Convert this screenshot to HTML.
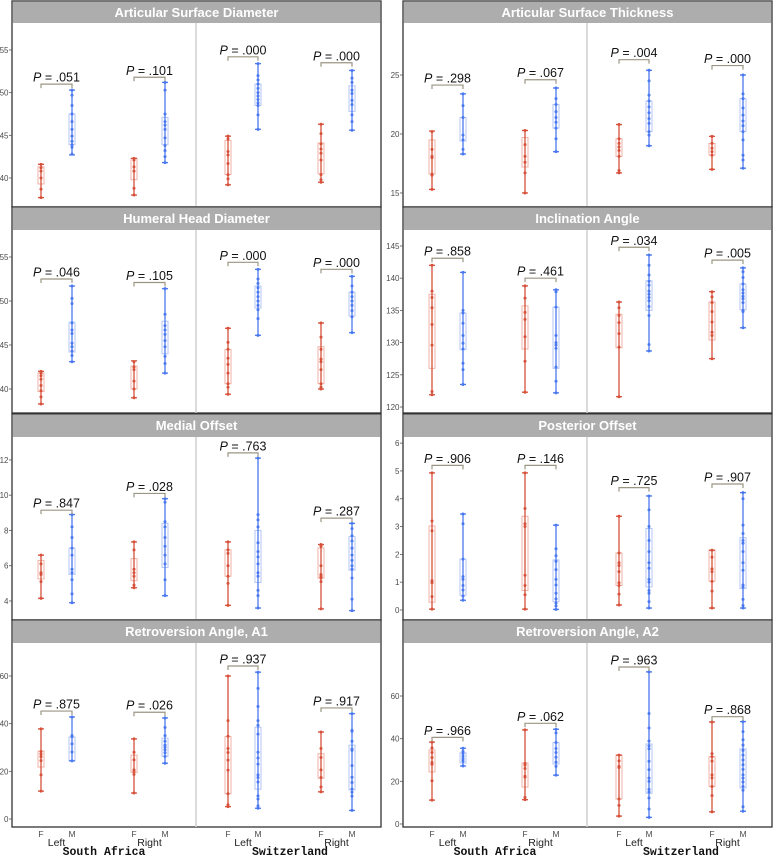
<!DOCTYPE html>
<html><head><meta charset="utf-8"><style>
html,body{margin:0;padding:0;background:#fff;}
svg{display:block;font-family:"Liberation Sans",sans-serif;}
</style></head>
<body>
<svg id="chart" width="774" height="856" viewBox="0 0 774 856" xmlns="http://www.w3.org/2000/svg"></svg>
<script>
const titles=["Articular Surface Diameter","Articular Surface Thickness","Humeral Head Diameter","Inclination Angle","Medial Offset","Posterior Offset","Retroversion Angle, A1","Retroversion Angle, A2"];
const yDomains=[[36.60,58.16],[13.81,29.41],[37.27,58.07],[119.07,147.48],[2.92,13.30],[-0.36,6.22],[-3.36,73.85],[-1.41,84.85]];
const yTicks=[[40,45,50,55],[15,20,25],[40,45,50,55],[120,125,130,135,140,145],[4,6,8,10,12],[0,1,2,3,4,5,6],[0,20,40,60],[0,20,40,60]];
const groups=["SA-Left-F","SA-Left-M","SA-Right-F","SA-Right-M","CH-Left-F","CH-Left-M","CH-Right-F","CH-Right-M"];
const pValues=[[".051",".101",".000",".000"],[".298",".067",".004",".000"],[".046",".105",".000",".000"],[".858",".461",".034",".005"],[".847",".028",".763",".287"],[".906",".146",".725",".907"],[".875",".026",".937",".917"],[".966",".062",".963",".868"]];
const bracketLevels=[[51.0,51.8,54.2,53.5],[24.15,24.6,26.3,25.8],[52.5,52.1,54.4,53.6],[143.1,140,144.8,142.8],[9.15,10.1,12.4,8.7],[5.2,5.2,4.4,4.53],[45.3,44.8,64.2,46.6],[40.6,47.2,73.6,50.3]];
// box stats per group: [min,q1,q3,max]
const boxStats=[
[[37.7,39.3,41.3,41.6],[42.7,43.9,47.5,50.3],[38.0,39.8,42.3,42.3],[41.8,43.9,47.1,51.2],[39.2,40.4,44.4,44.9],[45.7,48.5,51.0,53.4],[39.5,40.5,44.1,46.3],[45.6,47.8,50.8,52.6]],
[[15.3,16.6,19.5,20.25],[18.3,19.4,21.4,23.4],[15.0,17.2,19.7,20.3],[18.5,20.5,22.5,23.9],[16.7,18.1,19.6,20.8],[19.0,20.2,22.8,25.4],[17.0,18.2,19.2,19.8],[17.1,20.2,23.0,25.0]],
[[38.3,39.7,41.8,42.0],[43.1,44.2,47.6,51.7],[39.0,40.0,42.6,43.2],[41.8,44.0,47.7,51.4],[39.4,40.6,44.5,46.9],[46.1,49.2,51.7,53.6],[40.0,40.6,44.8,47.5],[46.4,48.3,51.0,52.8]],
[[121.9,126.0,137.5,142.0],[123.5,128.9,134.6,140.9],[122.3,129.0,135.7,138.8],[122.2,126.0,135.5,138.2],[121.6,129.2,134.4,136.3],[128.7,135.0,139.6,143.6],[127.5,130.4,136.3,137.9],[132.3,135.1,139.1,141.6]],
[[4.15,5.25,6.3,6.6],[3.9,5.5,7.0,8.9],[4.75,5.15,6.4,7.35],[4.3,5.9,8.4,9.8],[3.75,5.4,6.9,7.35],[3.6,5.05,8.0,12.1],[3.55,5.3,7.0,7.2],[3.45,5.75,7.65,8.4]],
[[0.03,0.28,3.02,4.93],[0.35,0.53,1.83,3.45],[0.03,0.7,3.37,4.93],[0.02,0.3,1.8,3.05],[0.18,0.88,2.05,3.37],[0.07,0.83,2.93,4.1],[0.07,1.03,2.15,2.15],[0.07,0.77,2.6,4.22]],
[[11.7,21.8,28.5,37.8],[24.4,24.4,34.4,42.8],[10.9,19.5,26.8,33.6],[23.4,26.3,33.9,42.4],[5.2,10.6,34.6,60.0],[4.5,12.5,38.5,61.6],[11.4,17.1,27.4,36.5],[3.6,12.2,31.0,44.2]],
[[11.2,24.4,34.7,38.4],[27.2,28.6,33.4,35.5],[11.4,17.3,28.6,44.1],[22.9,28.1,38.2,44.4],[3.7,11.7,32.3,32.3],[3.1,14.4,37.5,71.3],[5.7,17.6,31.6,47.8],[6.0,16.9,35.2,48.0]]];
const points=[
[[41.6,41.2,40.8,40,38.7,37.7],[50.3,49.7,48.5,47.5,46.6,45.7,44.9,44.3,43.9,43.6,42.8],[42.3,42.1,41.3,40.8,38.8,38],[51.2,50.3,47.5,46.6,46.2,45.7,44.7,43.8,43.2,42.5,41.8],[44.9,44.6,43.1,42.7,41.7,40.4,39.9,39.2],[53.4,52,51.5,51,50.5,50,49.6,49.2,48.8,48.5,47.4,45.7],[46.3,45.2,44,43.4,42.9,42.1,40.4,39.8,39.5],[52.6,51.7,51.2,50.3,49.9,49.1,48.6,47.4,46.6,45.6]],
[[20.2,18.7,18.1,18,16.6,16.5,15.3],[23.4,22.4,21.4,19.9,19.5,18.7,18.3],[20.3,19.1,18.1,17.6,16.7,15],[23.9,23,22.5,21.9,21.4,21,20.5,19.6,18.5],[20.8,19.6,19.2,18.9,18.6,18.1,16.9,16.7],[25.4,24.5,23.3,22.8,22.3,21.8,21.3,20.9,20.2,19.9,19],[19.8,19.2,18.8,18.5,18.2,17],[25,23.4,23,22.2,21.6,21.1,20.7,20.2,19.5,18.2,17.8,17.1]],
[[42,41.8,41.5,41.1,40.4,39.8,39.1,38.3],[51.7,50.3,49.7,47.5,46.7,46.3,45.2,44.8,44.3,43.8,43.1],[43.1,42.5,42.2,40.9,40,39],[51.4,48.5,47.2,46.7,46.2,45.5,44.8,43.7,42.9,41.8],[46.9,45.3,44.5,43.5,42.8,41.8,40.6,40.2,39.4],[53.6,52.5,52,51.5,51,50.5,50,49.5,49,48,46.1],[47.5,45.9,44.5,43.4,43.1,42.2,40.6,40.2,40],[52.8,51.7,51,50.5,50,49.5,48.9,48.2,46.4]],
[[142,138,137,135.4,132.8,129.6,122.4,121.9],[140.9,135,134.6,133,131.1,129.9,129,126.8,125.8,123.5],[138.8,136.9,134.7,133.6,130.9,127.1,122.3],[138.2,137.9,135.5,131.1,130,129.6,129.1,126.2,124,122.2],[136.3,135.4,134.2,133.1,131.4,129.3,121.6],[143.6,142,140.5,139.5,138.9,138,137.5,137,136.5,135.6,134.2,129.7,128.7],[137.9,137.1,136.2,134.8,133.2,131.6,131.1,127.5],[141.6,141,140.1,139.1,138.2,137.7,137.2,136.8,136.2,135,134.8,132.3]],
[[6.6,6.1,5.6,5.5,5.1,4.15],[8.9,8.2,7.6,7.0,6.6,5.8,5.6,5.2,4.4,3.9],[7.35,6.9,5.8,5.6,5.4,4.9,4.75],[9.8,9.6,8.5,8.2,7.6,7.1,6.6,6.1,5.2,4.3],[7.35,6.9,6.7,6,5.4,5.0,3.75],[12.1,8.9,8.6,8.2,7.3,6.8,6.5,6.1,5.6,5.4,4.6,4.3,3.6],[7.2,7.1,6.0,5.5,5.4,5.3,5.1,3.55],[8.4,8.1,7.7,7.4,7,6.6,6.3,6,5.8,5.3,4.1,3.45]],
[[4.93,3.2,2.85,1.05,0.98,0.48,0.03],[3.45,3.1,1.83,1.2,1.1,0.88,0.72,0.5,0.35],[4.93,3.65,3.1,3.0,1.25,0.88,0.55,0.03],[3.05,2.2,1.95,1.75,1.45,1.1,0.9,0.6,0.4,0.25,0.15,0.02],[3.37,2.05,1.7,1.6,1.38,0.98,0.88,0.57,0.18],[4.1,3.6,3.0,2.5,2.1,1.7,1.5,1.1,1.0,0.7,0.6,0.3,0.07],[2.15,1.9,1.48,1.38,1.03,0.68,0.07],[4.22,4.0,3.05,2.75,2.5,2.4,2.1,1.7,1.43,0.9,0.82,0.38,0.16,0.07]],
[[37.8,28.3,27.2,26.1,24.5,18.5,11.7],[42.8,35,34.5,31.5,28.1,24.4],[33.6,28,24.8,20.6,20,18.7,10.9],[42.4,38.4,35,32.6,31,30.1,29,27.8,26.3,23.4],[60,41.3,34.7,29.6,27.9,24.7,20.5,10.6,6,5.2],[61.6,54.8,47.2,41.3,39.3,35.6,28,25.6,23,18.5,17.4,15.5,9.7,8.4,5.5,4.5],[36.5,29.6,25.8,20.6,17.4,13.4,11.4],[44.2,37.2,36.8,32.6,29.3,28.8,22.4,17.5,15.3,12.6,11.2,9.6,3.6]],
[[38.4,35.6,33.5,31.2,28.8,28,20.3,11.2],[35.5,34,33,31.7,30.5,29.5,27.2],[44.1,28.4,27.6,26,22.4,22,12.5,11.4],[44.4,42.7,38.2,35.4,33.5,31.3,29,27,22.9],[32.3,29.6,27,26.5,11.7,8.7,3.7],[71.3,51.8,45,38.9,36.6,35.3,29.4,25.5,21.5,20,16.2,15,12.2,7,3.1],[47.8,33,31.5,29.5,23,21.6,17.6,13.3,5.7],[48,43.3,39.5,37,34.5,32.3,30,27.8,25.6,23,21.5,19.7,17.6,15.8,8.1,6]]];
const sexLabels=["F","M","F","M","F","M","F","M"];
const sideLabels=["Left","Right","Left","Right"];
const countryLabels=["South Africa","Switzerland"];

const NS="http://www.w3.org/2000/svg";
const svg=document.getElementById('chart');
function mk(tag,attrs,parent){const e=document.createElementNS(NS,tag);for(const k in attrs)e.setAttribute(k,attrs[k]);(parent||svg).appendChild(e);return e;}
const colX=[12,403], PW=369;
const rowHead=[1,207,414,620], rowTop=[23,230,437,643], rowBot=[207,413,620,827];
const groupOff=[29,60,122,153,216,246,309,340];
const RED="#d6503a", BLUE="#4a78ee", REDL="#f0b2a6", BLUEL="#b4c6f6";

titles.forEach((t,pi)=>{
  const col=pi%2,row=Math.floor(pi/2);
  const x0=colX[col], top=rowTop[row], bot=rowBot[row], ht=rowHead[row];
  const [lo,hi]=yDomains[pi];
  const y=v=>bot-(v-lo)/(hi-lo)*(bot-top);
  const xg=i=>x0+groupOff[i];
  const g=mk('g',{});
  
  
  const bg=mk('rect',{x:x0,y:ht,width:PW,height:bot-ht,fill:'#fff',stroke:'#333','stroke-width':1.3},g);
  
  
  const hd=mk('rect',{x:x0+0.7,y:ht+0.7,width:PW-1.4,height:top-ht-0.7,fill:'#adadad'},g);
  
  
  const tt=mk('text',{x:x0+PW/2,y:ht+16,'text-anchor':'middle','font-size':'13','font-weight':'bold',fill:'#fff'},g);
  tt.textContent=t;
  
  
  const dv=mk('line',{x1:x0+184,x2:x0+184,y1:top,y2:bot,stroke:'#cfcfcf','stroke-width':1.5},g);
  
  
  yTicks[pi].forEach(v=>{
    const tk=mk('line',{x1:x0-3,x2:x0,y1:y(v),y2:y(v),stroke:'#555','stroke-width':0.8},g);
    
    
    const tl=mk('text',{x:x0-3.5,y:y(v)+3,'text-anchor':'end','font-size':'8',fill:'#4d4d4d'},g);
    tl.textContent=v;
    
    
  });
  boxStats[pi].forEach((s,gi)=>{
    const cx=xg(gi), isF=gi%2===0, c=isF?RED:BLUE, cl=isF?REDL:BLUEL;
    const bx=mk('rect',{x:cx-3,y:y(s[2]),width:6,height:Math.max(0.5,y(s[1])-y(s[2])),fill:'none',stroke:cl,'stroke-width':1},g);
    
    
    const wh=mk('line',{x1:cx,x2:cx,y1:y(s[3]),y2:y(s[0]),stroke:c,'stroke-width':1.3},g);
    
    
    [s[0],s[3]].forEach(v=>{
      const cp=mk('line',{x1:cx-3,x2:cx+3,y1:y(v),y2:y(v),stroke:c,'stroke-width':1.3},g);
      
      
    });
    points[pi][gi].forEach(v=>{
      const pt=mk('circle',{cx:cx,cy:y(v),r:1.5,fill:c},g);
      
      
    });
  });
  pValues[pi].forEach((p,k)=>{
    const xa=xg(2*k), xb=xg(2*k+1), yb=y(bracketLevels[pi][k]);
    const br=mk('path',{d:`M${xa},${yb+4}V${yb}H${xb}V${yb+4}`,fill:'none',stroke:'#9b9583','stroke-width':1.2},g);
    
    
    const pt=mk('text',{x:(xa+xb)/2,y:yb-2.5,'text-anchor':'middle','font-size':'12.5',fill:'#111'},g);
    
    
    const it=mk('tspan',{'font-style':'italic'},pt); it.textContent='P';
    const rs=mk('tspan',{},pt); rs.textContent=' = '+p;
  });
  if(row===3){
    groupOff.forEach((o,gi)=>{
      const fl=mk('text',{x:x0+o,y:837,'text-anchor':'middle','font-size':'8.5',fill:'#4d4d4d'},g);
      fl.textContent=sexLabels[gi];
      
      
    });
    sideLabels.forEach((s,k)=>{
      const sl=mk('text',{x:x0+(groupOff[2*k]+groupOff[2*k+1])/2,y:846,'text-anchor':'middle','font-size':'10.5',fill:'#222'},g);
      sl.textContent=s;
      
      
    });
    countryLabels.forEach((c,k)=>{
      const cl=mk('text',{x:x0+92+k*186,y:855,'text-anchor':'middle','font-size':'11.5','font-weight':'bold','font-family':'"Liberation Mono",monospace',fill:'#111'},g);
      cl.textContent=c;
      
      
    });
  }
});
</script>
</body></html>
